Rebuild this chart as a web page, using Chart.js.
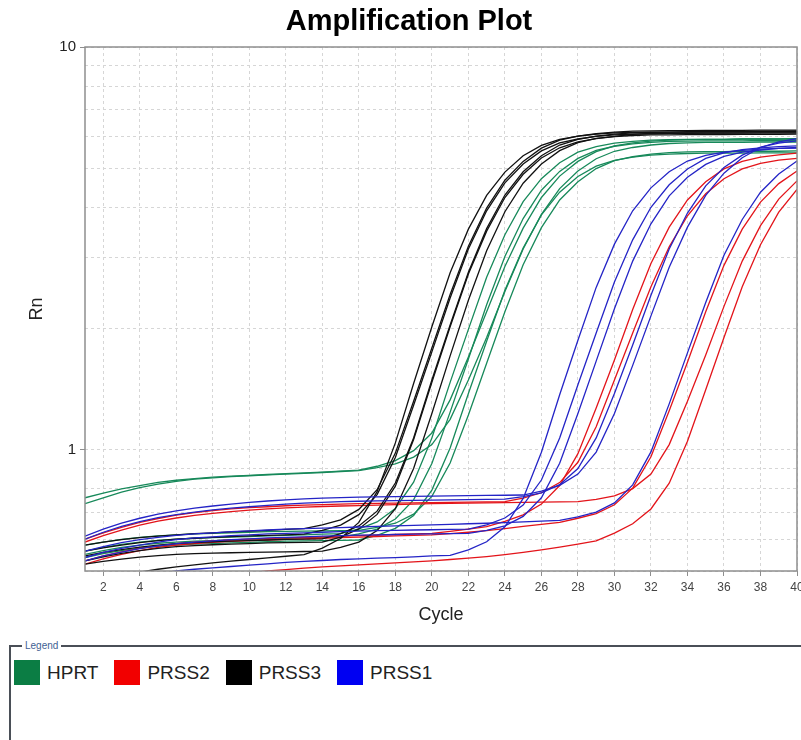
<!DOCTYPE html>
<html>
<head>
<meta charset="utf-8">
<title>Amplification Plot</title>
<script src="https://cdn.jsdelivr.net/npm/chart.js@4.4.1/dist/chart.umd.min.js"></script>
<style>
  html, body { margin: 0; padding: 0; background: #fff; overflow: hidden; }
  body { width: 801px; height: 740px; position: relative; font-family: "Liberation Sans", Arial, sans-serif; }
  #plot { position: absolute; left: 0; top: 0; }
  fieldset.key { position: absolute; left: 9px; top: 640px; width: 830px; height: 130px; margin: 0;
    padding: 9px 0 0 3px; border: 2px solid #4a4f57; box-sizing: border-box; }
  fieldset.key legend { font-size: 10px; color: #3f5f93; padding: 0 3px; margin-left: 8px; }
  .item { display: inline-flex; align-items: center; margin-right: 16px; font-size: 19px; color: #222; }
  .sw { width: 26px; height: 25px; margin-right: 7px; display: inline-block; }
</style>
</head>
<body>
<canvas id="plot" width="818" height="632"></canvas>
<fieldset class="key"><legend>Legend</legend><div id="keyItems"></div></fieldset>
<script>
// cycle numbers on the x axis
const cycles = [1,2,3,4,5,6,7,8,9,10,11,12,13,14,15,16,17,18,19,20,21,22,23,24,25,26,27,28,29,30,31,32,33,34,35,36,37,38,39,40];
const xTicks = [2,4,6,8,10,12,14,16,18,20,22,24,26,28,30,32,34,36,38,40];
const yTicks = [0.5,0.6,0.7,0.8,0.9,1,2,3,4,5,6,7,8,9,10];
const yLabeled = [1, 10];

const genes = ['HPRT', 'PRSS2', 'PRSS3', 'PRSS1'];
const keyColors = ['#0b7d44', '#f20000', '#000000', '#0000f2'];
const lineColors = ['#17895a', '#e3141a', '#111111', '#2424c6'];

// Rn per well, one array per run
const hprtRuns = [
  [0.76,0.78,0.8,0.815,0.83,0.84,0.848,0.855,0.86,0.864,0.868,0.872,0.876,0.88,0.885,0.89,0.91,0.94,0.995,1.1,1.33,1.7,2.2,2.85,3.55,4.23,4.78,5.2,5.5,5.68,5.78,5.84,5.87,5.89,5.9,5.9,5.91,5.91,5.91,5.92],
  [0.735,0.76,0.785,0.805,0.822,0.835,0.845,0.852,0.858,0.862,0.866,0.87,0.874,0.878,0.883,0.888,0.903,0.922,0.959,1.03,1.19,1.49,1.9,2.47,3.15,3.84,4.45,4.92,5.28,5.51,5.63,5.71,5.76,5.78,5.8,5.8,5.8,5.81,5.81,5.81],
  [0.56,0.572,0.582,0.59,0.596,0.6,0.603,0.605,0.607,0.609,0.611,0.613,0.615,0.617,0.619,0.636,0.662,0.715,0.831,1.07,1.47,1.99,2.68,3.42,4.13,4.71,5.16,5.48,5.66,5.77,5.83,5.87,5.89,5.9,5.9,5.9,5.91,5.91,5.91,5.91],
  [0.55,0.562,0.572,0.58,0.586,0.59,0.593,0.595,0.597,0.599,0.601,0.603,0.605,0.606,0.607,0.618,0.635,0.673,0.751,0.924,1.24,1.68,2.29,3.02,3.75,4.41,4.91,5.29,5.54,5.67,5.75,5.8,5.83,5.84,5.85,5.85,5.85,5.86,5.86,5.86],
  [0.58,0.59,0.599,0.606,0.611,0.615,0.618,0.62,0.622,0.624,0.626,0.627,0.628,0.629,0.63,0.631,0.642,0.657,0.692,0.766,0.927,1.22,1.64,2.2,2.88,3.56,4.17,4.63,4.99,5.22,5.34,5.42,5.47,5.49,5.5,5.5,5.51,5.51,5.51,5.52],
  [0.54,0.552,0.562,0.57,0.576,0.58,0.583,0.585,0.587,0.589,0.591,0.593,0.594,0.595,0.596,0.597,0.613,0.638,0.687,0.794,1.01,1.38,1.86,2.49,3.17,3.83,4.36,4.77,5.06,5.23,5.33,5.39,5.42,5.44,5.45,5.45,5.45,5.46,5.46,5.46]
];
const prss2Runs = [
  [0.53,0.545,0.558,0.569,0.578,0.585,0.59,0.594,0.597,0.6,0.602,0.604,0.606,0.608,0.61,0.612,0.614,0.616,0.618,0.62,0.627,0.635,0.644,0.664,0.689,0.733,0.815,0.978,1.27,1.67,2.23,2.9,3.57,4.17,4.63,4.98,5.2,5.33,5.4,5.45],
  [0.6,0.622,0.642,0.66,0.675,0.688,0.698,0.706,0.713,0.718,0.722,0.726,0.729,0.731,0.733,0.735,0.736,0.737,0.738,0.739,0.74,0.741,0.742,0.743,0.758,0.782,0.829,0.931,1.14,1.49,1.95,2.54,3.19,3.81,4.32,4.71,4.98,5.14,5.24,5.29],
  [0.52,0.536,0.55,0.562,0.572,0.58,0.585,0.589,0.592,0.595,0.597,0.599,0.601,0.603,0.605,0.607,0.609,0.611,0.613,0.615,0.619,0.624,0.63,0.637,0.645,0.653,0.66,0.676,0.694,0.73,0.803,0.961,1.25,1.65,2.2,2.87,3.53,4.12,4.58,4.92],
  [0.59,0.612,0.632,0.65,0.665,0.677,0.687,0.695,0.702,0.708,0.713,0.717,0.72,0.723,0.725,0.727,0.729,0.731,0.733,0.735,0.736,0.737,0.738,0.739,0.74,0.741,0.742,0.743,0.753,0.768,0.801,0.87,1.03,1.32,1.72,2.27,2.94,3.6,4.19,4.65],
  [0.44,0.447,0.454,0.461,0.467,0.473,0.479,0.485,0.49,0.495,0.5,0.504,0.508,0.512,0.515,0.518,0.521,0.524,0.527,0.53,0.534,0.538,0.543,0.549,0.556,0.564,0.573,0.583,0.594,0.621,0.655,0.713,0.826,1.05,1.41,1.9,2.54,3.23,3.89,4.43]
];
const prss3Runs = [
  [0.47,0.478,0.488,0.497,0.505,0.512,0.518,0.524,0.529,0.534,0.539,0.544,0.549,0.57,0.602,0.66,0.787,1.04,1.46,2.02,2.75,3.53,4.28,4.89,5.37,5.7,5.9,6.01,6.08,6.12,6.14,6.15,6.15,6.16,6.16,6.16,6.17,6.17,6.17,6.18],
  [0.58,0.59,0.598,0.605,0.61,0.615,0.619,0.622,0.625,0.628,0.631,0.634,0.637,0.651,0.67,0.711,0.796,0.981,1.32,1.79,2.43,3.2,3.98,4.67,5.2,5.61,5.87,6.01,6.09,6.15,6.18,6.19,6.2,6.2,6.21,6.21,6.21,6.22,6.22,6.22],
  [0.56,0.571,0.58,0.588,0.595,0.6,0.603,0.606,0.609,0.611,0.613,0.615,0.617,0.631,0.65,0.69,0.774,0.957,1.29,1.75,2.38,3.15,3.92,4.6,5.12,5.52,5.78,5.91,6.0,6.05,6.08,6.09,6.1,6.1,6.11,6.11,6.11,6.12,6.12,6.12],
  [0.545,0.556,0.565,0.573,0.58,0.585,0.588,0.591,0.593,0.595,0.597,0.599,0.6,0.601,0.619,0.647,0.704,0.827,1.07,1.49,2.04,2.76,3.54,4.29,4.9,5.37,5.71,5.9,6.01,6.08,6.12,6.14,6.15,6.15,6.16,6.16,6.16,6.17,6.17,6.17],
  [0.53,0.542,0.553,0.562,0.569,0.575,0.578,0.581,0.583,0.585,0.587,0.588,0.589,0.59,0.607,0.636,0.691,0.812,1.06,1.47,2.02,2.73,3.49,4.23,4.83,5.3,5.62,5.81,5.92,5.99,6.03,6.05,6.05,6.06,6.06,6.06,6.07,6.07,6.07,6.08],
  [0.52,0.528,0.535,0.541,0.546,0.55,0.552,0.554,0.555,0.556,0.557,0.558,0.559,0.56,0.572,0.59,0.63,0.714,0.898,1.23,1.71,2.35,3.12,3.9,4.59,5.12,5.53,5.79,5.93,6.0,6.07,6.1,6.1,6.11,6.11,6.11,6.12,6.12,6.12,6.12]
];
const prss1Runs = [
  [0.46,0.469,0.478,0.486,0.493,0.5,0.505,0.509,0.513,0.517,0.521,0.525,0.528,0.531,0.534,0.536,0.538,0.54,0.542,0.545,0.547,0.564,0.591,0.644,0.757,0.986,1.37,1.87,2.53,3.24,3.92,4.47,4.9,5.21,5.38,5.48,5.54,5.58,5.6,5.61],
  [0.54,0.556,0.569,0.58,0.59,0.598,0.604,0.608,0.612,0.615,0.618,0.62,0.622,0.624,0.626,0.628,0.63,0.631,0.632,0.633,0.634,0.635,0.651,0.677,0.729,0.841,1.07,1.45,1.95,2.61,3.32,4.0,4.55,4.98,5.29,5.46,5.56,5.62,5.66,5.68],
  [0.53,0.545,0.557,0.568,0.577,0.585,0.59,0.594,0.598,0.601,0.604,0.606,0.608,0.61,0.612,0.614,0.615,0.616,0.617,0.618,0.619,0.62,0.631,0.647,0.683,0.76,0.926,1.23,1.66,2.24,2.94,3.64,4.27,4.75,5.11,5.35,5.48,5.55,5.6,5.63],
  [0.61,0.635,0.657,0.676,0.692,0.705,0.716,0.725,0.733,0.74,0.746,0.751,0.755,0.758,0.761,0.763,0.764,0.765,0.766,0.767,0.768,0.769,0.77,0.771,0.772,0.789,0.816,0.87,0.987,1.23,1.62,2.15,2.84,3.57,4.28,4.86,5.31,5.63,5.81,5.92],
  [0.6,0.624,0.645,0.663,0.678,0.69,0.7,0.709,0.716,0.722,0.728,0.733,0.737,0.74,0.743,0.745,0.747,0.748,0.749,0.75,0.751,0.752,0.753,0.754,0.765,0.782,0.819,0.898,1.07,1.38,1.82,2.42,3.15,3.87,4.52,5.02,5.39,5.64,5.77,5.85],
  [0.56,0.575,0.588,0.598,0.606,0.613,0.618,0.622,0.626,0.629,0.632,0.635,0.637,0.639,0.641,0.643,0.645,0.647,0.649,0.651,0.653,0.655,0.657,0.659,0.662,0.665,0.668,0.681,0.7,0.738,0.818,0.988,1.3,1.74,2.32,3.04,3.73,4.36,4.84,5.21]
];

const runsByGene = [hprtRuns, prss2Runs, prss3Runs, prss1Runs];
// blue drawn on top, then black, red, green underneath
const drawOrder = [3, 2, 1, 0];

const datasets = [];
runsByGene.forEach((runs, g) => {
  runs.forEach(vals => {
    datasets.push({
      label: genes[g],
      data: cycles.map((c, i) => ({ x: c, y: vals[i] })),
      borderColor: lineColors[g],
      borderWidth: 1.3,
      pointRadius: 0,
      tension: 0,
      fill: false,
      order: drawOrder[g]
    });
  });
});

// plot frame around the chart area
const frame = {
  id: 'frame',
  afterDatasetsDraw(chart){
    const {ctx, chartArea: a} = chart;
    ctx.save();
    ctx.strokeStyle = '#8e8e8e';
    ctx.lineWidth = 1.5;
    ctx.strokeRect(a.left, a.top, a.right - a.left, a.bottom - a.top);
    ctx.restore();
  }
};

Chart.defaults.font.family = '"Liberation Sans", Arial, sans-serif';

new Chart(document.getElementById('plot').getContext('2d'), {
  type: 'line',
  data: { datasets },
  plugins: [frame],
  options: {
    responsive: false,
    animation: false,
    layout: { padding: { left: 21, right: 21, top: 0, bottom: 2 } },
    plugins: {
      legend: { display: false },
      tooltip: { enabled: false },
      title: {
        display: true, text: 'Amplification Plot', color: '#000',
        font: { size: 29, weight: 'bold' }, padding: { top: 5, bottom: 7.2 }
      }
    },
    scales: {
      x: {
        type: 'linear', min: 1, max: 40,
        afterBuildTicks: s => { s.ticks = xTicks.map(v => ({ value: v })); },
        grid: { color: '#d6d6d6', tickColor: '#8e8e8e', tickLength: 5 },
        border: { display: false, dash: [3, 3] },
        ticks: { color: '#444', font: { size: 12 }, padding: 4, maxRotation: 0, autoSkip: false },
        title: { display: true, text: 'Cycle', color: '#222', font: { size: 18 }, padding: { top: 6, bottom: 4 } }
      },
      y: {
        type: 'logarithmic', min: 0.5, max: 10,
        afterBuildTicks: s => { s.ticks = yTicks.map(v => ({ value: v })); },
        afterFit: s => { s.width = 64; },
        grid: {
          color: '#d6d6d6', tickLength: 5,
          tickColor: ctx => (ctx.tick && yLabeled.includes(ctx.tick.value)) ? '#8e8e8e' : 'rgba(0,0,0,0)'
        },
        border: { display: false, dash: [3, 3] },
        ticks: {
          color: '#222', font: { size: 15 }, padding: 4, autoSkip: false,
          callback: v => yLabeled.includes(v) ? String(v) : ''
        },
        title: { display: true, text: 'Rn', color: '#222', font: { size: 18 }, padding: { top: 5, bottom: 0 } }
      }
    }
  }
});

// legend entries under the plot
const keyBox = document.getElementById('keyItems');
genes.forEach((name, g) => {
  const item = document.createElement('span');
  item.className = 'item';
  const sw = document.createElement('span');
  sw.className = 'sw';
  sw.style.background = keyColors[g];
  item.appendChild(sw);
  item.appendChild(document.createTextNode(name));
  keyBox.appendChild(item);
});
</script>
</body>
</html>
